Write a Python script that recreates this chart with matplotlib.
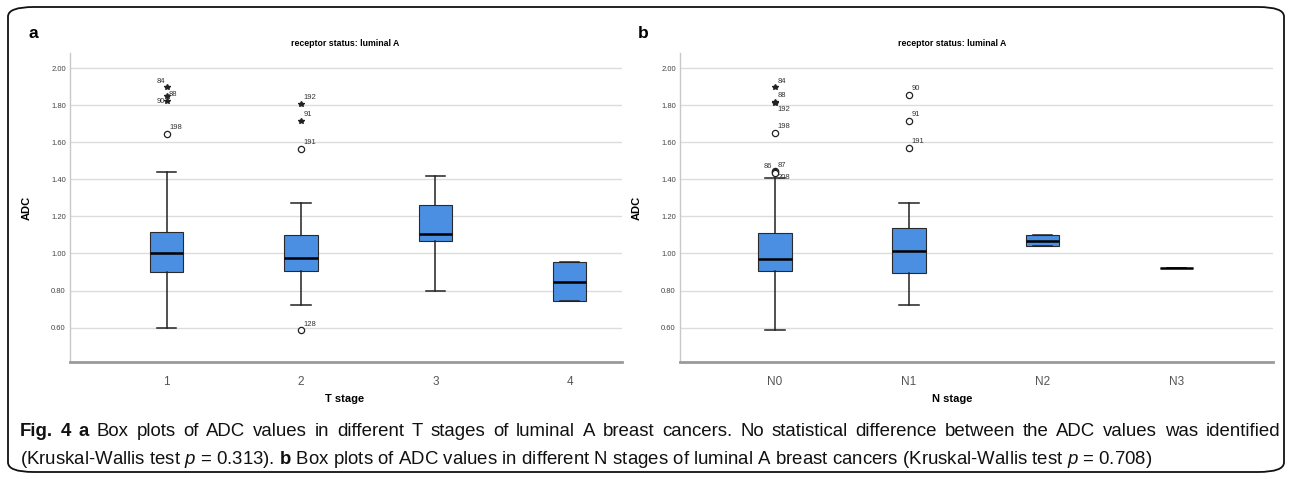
import matplotlib.pyplot as plt
from matplotlib.patches import FancyBboxPatch

plt.rcParams['font.family'] = ['Liberation Sans', 'DejaVu Sans']
plt.rcParams['mathtext.fontset'] = 'custom'
plt.rcParams['mathtext.rm'] = 'Liberation Sans'
plt.rcParams['mathtext.it'] = 'Liberation Sans:italic'
plt.rcParams['mathtext.bf'] = 'Liberation Sans:bold'

# panel a: T stage
t_labels = ['1', '2', '3', '4']
t_whislo = [0.60, 0.725, 0.80, 0.743]
t_q1 = [0.900, 0.907, 1.066, 0.743]
t_med = [1.000, 0.975, 1.107, 0.848]
t_q3 = [1.117, 1.100, 1.264, 0.954]
t_whishi = [1.437, 1.273, 1.420, 0.954]
t_out_group = [0, 0, 0, 0, 1, 1, 1, 1]
t_out_val = [1.896, 1.851, 1.822, 1.645, 1.805, 1.715, 1.562, 0.586]
t_out_id = ['84', '88', '90', '198', '192', '91', '191', '128']
t_out_extreme = [True, True, True, False, True, True, False, False]

# panel b: N stage
n_labels = ['N0', 'N1', 'N2', 'N3']
n_whislo = [0.586, 0.725, 1.038, 0.92]
n_q1 = [0.904, 0.896, 1.038, 0.92]
n_med = [0.970, 1.011, 1.070, 0.92]
n_q3 = [1.113, 1.136, 1.102, 0.92]
n_whishi = [1.407, 1.273, 1.102, 0.92]
n_out_group = [0, 0, 0, 0, 0, 0, 0, 1, 1, 1]
n_out_val = [1.895, 1.818, 1.810, 1.650, 1.445, 1.440, 1.432, 1.854, 1.716, 1.568]
n_out_id = ['84', '88', '192', '198', '86', '87', '208', '90', '91', '191']
n_out_extreme = [True, True, True, False, False, False, False, False, False, False]

y_ticks = [0.60, 0.80, 1.00, 1.20, 1.40, 1.60, 1.80, 2.00]

caption1_bold = 'Fig. 4 a'
caption1_rest = ('Box plots of ADC values in different T stages of luminal A breast cancers. '
                 'No statistical difference between the ADC values was identified')
caption2 = (r'(Kruskal-Wallis test $p$ = 0.313). $\mathbf{b}$ Box plots of ADC values in different N stages of '
            r'luminal A breast cancers (Kruskal-Wallis test $p$ = 0.708)')

# label placement around outlier markers: (dx, dy, ha, va)
upper_right = (2, 2, 'left', 'bottom')
label_side_a = {'84': (-1, 2, 'right', 'bottom'), '88': (1.5, -1.5, 'left', 'bottom'),
                '90': (-1.5, 0, 'right', 'center')}
label_side_b = {'192': (2, -2, 'left', 'top'), '86': (-2, 1, 'right', 'bottom'),
                '208': (1.5, -0.5, 'left', 'top')}

box_color = '#4a8fe2'

fig = plt.figure(figsize=(12.92, 4.79), dpi=100)
W, H = 1292, 479

frame = FancyBboxPatch((8 / W, 7 / H), 1276 / W, 465 / H, boxstyle='round,pad=0,rounding_size=0.02',
                       transform=fig.transFigure, fill=False, edgecolor='#111111', linewidth=1.3)
fig.patches.append(frame)


def draw_panel(rect, labels, whislo, q1, med, q3, whishi, og, ov, oid, oext, sides, xlim,
               letter, letter_x, title_x, xlabel):
    ax = fig.add_axes(rect)
    stats = []
    for i in range(len(labels)):
        stats.append({'whislo': whislo[i], 'q1': q1[i], 'med': med[i], 'q3': q3[i],
                      'whishi': whishi[i], 'fliers': []})
    pos = list(range(len(labels)))
    ax.bxp(stats, positions=pos, widths=0.25, capwidths=0.145, patch_artist=True, showfliers=False,
           boxprops=dict(facecolor=box_color, edgecolor='#2a2a2a', linewidth=0.8),
           medianprops=dict(color='black', linewidth=1.8),
           whiskerprops=dict(color='#222222', linewidth=1.1),
           capprops=dict(color='#222222', linewidth=1.1), zorder=3)
    for g, v, name, ext in zip(og, ov, oid, oext):
        if ext:
            ax.plot(pos[g], v, marker='*', color='#222222', markersize=4, linestyle='none', zorder=4)
        else:
            ax.plot(pos[g], v, marker='o', markerfacecolor='white', markeredgecolor='#222222',
                    markersize=4.5, markeredgewidth=0.9, linestyle='none', zorder=4)
        dx, dy, ha, va = sides.get(name, upper_right)
        ax.annotate(name, (pos[g], v), xytext=(dx, dy), textcoords='offset points',
                    ha=ha, va=va, fontsize=5.5, color='#333333', zorder=5)
    ax.set_xlim(*xlim)
    ax.set_ylim(0.415, 2.081)
    ax.set_yticks(y_ticks)
    ax.set_yticklabels(['%.2f' % t for t in y_ticks], fontsize=5.5, color='#444444')
    ax.set_xticks(pos)
    ax.set_xticklabels(labels, fontsize=8.5, color='#555555')
    ax.tick_params(length=0)
    ax.tick_params(axis='y', pad=3)
    ax.tick_params(axis='x', pad=10)
    ax.grid(axis='y', color='#dcdcdc', linewidth=1)
    ax.set_axisbelow(True)
    for s in ['top', 'right']:
        ax.spines[s].set_visible(False)
    ax.spines['left'].set_color('#c8c8c8')
    ax.spines['left'].set_linewidth(1)
    ax.spines['bottom'].set_color('#9a9a9a')
    ax.spines['bottom'].set_linewidth(2)
    ax.set_ylabel('ADC', fontsize=8, fontweight='bold', labelpad=14)
    fig.text(letter_x / W, 1 - 33 / H, letter, fontsize=12.5, fontweight='bold', ha='center', va='center')
    fig.text(title_x / W, 1 - 44 / H, 'receptor status: luminal A', fontsize=6.3, fontweight='bold',
             ha='center', va='center')
    fig.text(title_x / W, 1 - 399 / H, xlabel, fontsize=8, fontweight='bold', ha='center', va='center')
    return ax


draw_panel([70 / W, 1 - 362 / H, 552 / W, 309 / H], t_labels, t_whislo, t_q1, t_med, t_q3, t_whishi,
           t_out_group, t_out_val, t_out_id, t_out_extreme, label_side_a, (-0.72, 3.39),
           'a', 33, 345, 'T stage')
draw_panel([680 / W, 1 - 362 / H, 593 / W, 309 / H], n_labels, n_whislo, n_q1, n_med, n_q3, n_whishi,
           n_out_group, n_out_val, n_out_id, n_out_extreme, label_side_b, (-0.71, 3.72),
           'b', 643, 952, 'N stage')

# caption line 1 is justified between x=20 and x=1280
cap_size = 13.4
words = [(w, 'bold') for w in caption1_bold.split()] + [(w, 'normal') for w in caption1_rest.split()]
renderer = fig.canvas.get_renderer()
texts = []
total = 0
for w, weight in words:
    t = fig.text(0, 1 - 432 / H, w, fontsize=cap_size, fontweight=weight, ha='left', va='center',
                 color='#111111')
    total += t.get_window_extent(renderer).width
    texts.append(t)
gap = (1260 - total) / (len(texts) - 1)
x = 20
for t in texts:
    t.set_x(x / W)
    x += t.get_window_extent(renderer).width + gap

fig.text(20 / W, 1 - 459 / H, caption2, fontsize=cap_size, ha='left', va='center', color='#111111')

fig.savefig('out.png', dpi=100)
